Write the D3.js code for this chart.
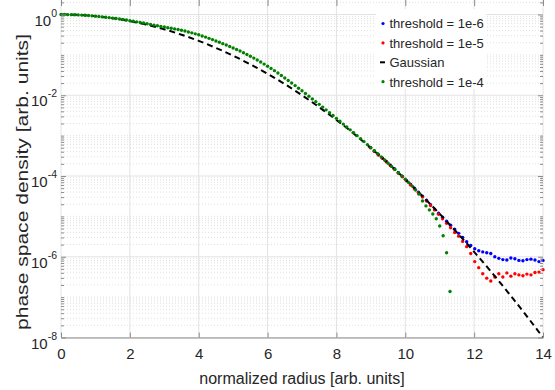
<!DOCTYPE html>
<html>
<head>
<meta charset="utf-8">
<script src="https://cdn.jsdelivr.net/npm/d3@7"></script>
<style>
  body { margin: 0; background: #fff; }
  svg { display: block; font-family: "Liberation Sans", Arial, sans-serif; }
</style>
</head>
<body>
<svg id="chart" width="555" height="390"></svg>
<script>
// all series are log10(phase space density)

// threshold = 1e-4 (green), sampled every 0.1 from r = 0
const greenStep = 0.1;
const greenLog10 = [
  0, 0, -0.002, -0.004, -0.007, -0.010, -0.015, -0.020, -0.026, -0.033,
  -0.041, -0.049, -0.059, -0.069, -0.078, -0.089, -0.100, -0.112, -0.125, -0.138,
  -0.153, -0.167, -0.182, -0.197, -0.212, -0.228, -0.245, -0.263, -0.280, -0.295,
  -0.311, -0.327, -0.342, -0.357, -0.372, -0.390, -0.409, -0.432, -0.454, -0.479,
  -0.503, -0.531, -0.560, -0.591, -0.622, -0.655, -0.688, -0.722, -0.756, -0.792,
  -0.828, -0.866, -0.904, -0.947, -0.990, -1.035, -1.080, -1.128, -1.177, -1.229,
  -1.281, -1.335, -1.391, -1.450, -1.510, -1.572, -1.634, -1.697, -1.761, -1.825,
  -1.890, -1.957, -2.023, -2.090, -2.158, -2.226, -2.294, -2.362, -2.431, -2.501,
  -2.572, -2.643, -2.714, -2.785, -2.857, -2.929, -3.001, -3.074, -3.148, -3.222,
  -3.296, -3.372, -3.449, -3.526, -3.604, -3.684, -3.762, -3.840, -3.920, -4.000,
  -4.082, -4.165, -4.250, -4.345, -4.45, -4.62, -4.74, -4.84, -4.94, -5.06,
  -5.24, -5.48, -5.90, -6.86
];

// threshold = 1e-6 (blue) and 1e-5 (red): step 14/120, shown from index 77 on
// (before that they sit under the green points)
const tailStep = 14 / 120;
const tailStart = 77;
const blueLog10 = [
  -3.29, -3.38, -3.47, -3.55, -3.64, -3.73, -3.82, -3.92, -4.01, -4.11,
  -4.20, -4.30, -4.40, -4.50, -4.60, -4.71, -4.82, -4.92, -5.02, -5.12,
  -5.22, -5.32, -5.42, -5.52, -5.63, -5.72, -5.80, -5.85, -5.88, -5.90,
  -5.92, -6.00, -6.04, -6.07, -6.08, -6.03, -6.05, -6.09, -6.10, -6.07,
  -6.06, -6.08, -6.12, -6.09
];
const redLog10 = [
  -3.30, -3.39, -3.48, -3.56, -3.65, -3.74, -3.83, -3.93, -4.02, -4.12,
  -4.22, -4.32, -4.42, -4.52, -4.62, -4.73, -4.84, -4.95, -5.06, -5.17,
  -5.28, -5.40, -5.49, -5.62, -5.75, -5.92, -6.12, -6.27, -6.42, -6.53,
  -6.60, -6.50, -6.42, -6.50, -6.40, -6.48, -6.42, -6.45, -6.47, -6.43,
  -6.45, -6.39, -6.38, -6.32
];

// Gaussian reference, every 0.5
const gaussStep = 0.5;
const gaussLog10 = [
  0, -0.010, -0.041, -0.092, -0.163, -0.255, -0.367, -0.500, -0.653, -0.827,
  -1.020, -1.235, -1.469, -1.724, -2.000, -2.296, -2.612, -2.949, -3.306, -3.684,
  -4.082, -4.500, -4.939, -5.398, -5.878, -6.378, -6.898, -7.439, -8.000
];

const xTicks = [0, 2, 4, 6, 8, 10, 12, 14];
const yTickExps = [0, -2, -4, -6, -8];
const legendLabels = ["threshold = 1e-6", "threshold = 1e-5", "Gaussian", "threshold = 1e-4"];
const legendColors = ["#0000ff", "#ff0000", "#000000", "#008000"];

var svg = d3.select("#chart"),
  left = 61, right = 543, top = 0, bottom = 337.5,
  axisColor = "#8c8c8c", textColor = "#262626";

var x = d3.scaleLinear().domain([0, 14]).range([left, right]);
var y = d3.scaleLog().domain([1e-8, 1]).range([bottom, 14.5]);
var yTop = y.invert(top);

// minor / major values on the log axis
var majorVals = yTickExps.map(function(e) { return Math.pow(10, e); });
var minorVals = [];
for (var k = -8; k <= 0; k++) {
  for (var m = 1; m <= 9; m++) {
    var v = m * Math.pow(10, k);
    if (v > yTop) continue;
    if (m === 1 && k % 2 === 0) continue;
    minorVals.push(v);
  }
}

// grid
var grid = svg.append("g");
grid.selectAll(".minor").data(minorVals).enter().append("line")
  .attr("x1", left).attr("x2", right)
  .attr("y1", function(d) { return y(d); }).attr("y2", function(d) { return y(d); })
  .attr("stroke", "#d9d9d9").attr("stroke-width", 0.8).attr("stroke-dasharray", "1,2");
grid.selectAll(".major").data(majorVals).enter().append("line")
  .attr("x1", left).attr("x2", right)
  .attr("y1", function(d) { return y(d); }).attr("y2", function(d) { return y(d); })
  .attr("stroke", "#e3e3e3").attr("stroke-width", 1);
grid.selectAll(".vx").data(xTicks).enter().append("line")
  .attr("y1", top).attr("y2", bottom)
  .attr("x1", function(d) { return x(d); }).attr("x2", function(d) { return x(d); })
  .attr("stroke", "#e3e3e3").attr("stroke-width", 1);

// legend background hides the grid under it
svg.append("rect").attr("x", 376).attr("y", 9).attr("width", 110).attr("height", 80).attr("fill", "#fff");

// data
function dots(vals, step, start, color) {
  svg.append("g").selectAll("circle").data(vals).enter().append("circle")
    .attr("cx", function(d, i) { return x((start + i) * step); })
    .attr("cy", function(d) { return y(Math.pow(10, d)); })
    .attr("r", 1.7)
    .attr("fill", color);
}
dots(blueLog10, tailStep, tailStart, legendColors[0]);
dots(redLog10, tailStep, tailStart, legendColors[1]);

var gaussLine = d3.line()
  .x(function(d, i) { return x(i * gaussStep); })
  .y(function(d) { return y(Math.pow(10, d)); })
  .curve(d3.curveMonotoneX);
svg.append("path").datum(gaussLog10)
  .attr("d", gaussLine)
  .attr("fill", "none").attr("stroke", "#000").attr("stroke-width", 2)
  .attr("stroke-dasharray", "6,4");

dots(greenLog10, greenStep, 0, legendColors[3]);

// axes
var ax = svg.append("g").attr("color", axisColor);

var xAxis = ax.append("g").attr("transform", "translate(0," + bottom + ")")
  .call(d3.axisBottom(x).tickValues(xTicks).tickSizeInner(-5).tickSizeOuter(0).tickPadding(11));
xAxis.selectAll("text").attr("fill", textColor).style("font-size", "15px");

ax.append("g").attr("transform", "translate(0," + top + ")")
  .call(d3.axisTop(x).tickValues(xTicks).tickSizeInner(-6).tickSizeOuter(0).tickFormat(""))
  .select(".domain").remove();

var yAxis = ax.append("g").attr("transform", "translate(" + left + ",0)")
  .call(d3.axisLeft(y).tickValues(majorVals).tickSizeInner(-5).tickSizeOuter(0).tickFormat(""));
yAxis.select(".domain").attr("d", "M0," + top + "V" + bottom);
ax.append("g").attr("transform", "translate(" + left + ",0)")
  .call(d3.axisLeft(y).tickValues(minorVals).tickSizeInner(-3).tickSizeOuter(0).tickFormat(""))
  .select(".domain").remove();

ax.append("g").attr("transform", "translate(" + right + ",0)")
  .call(d3.axisRight(y).tickValues(majorVals).tickSizeInner(-5).tickSizeOuter(0).tickFormat(""))
  .select(".domain").attr("stroke", "#e0e0e0").attr("d", "M0," + top + "V" + bottom);
ax.append("g").attr("transform", "translate(" + right + ",0)")
  .call(d3.axisRight(y).tickValues(minorVals).tickSizeInner(-3).tickSizeOuter(0).tickFormat(""))
  .select(".domain").remove();

// y tick labels 10^n
var yLab = svg.append("g").selectAll("text").data(yTickExps).enter().append("text")
  .attr("x", 57)
  .attr("y", function(d) { return y(Math.pow(10, d)) + 11; })
  .attr("text-anchor", "end")
  .attr("fill", textColor)
  .style("font-size", "15px");
yLab.append("tspan").text("10");
yLab.append("tspan").attr("dy", -9).style("font-size", "10.5px").text(function(d) { return d; });

// axis titles
svg.append("text")
  .attr("x", (left + right) / 2).attr("y", 383.5)
  .attr("text-anchor", "middle").attr("fill", textColor)
  .style("font-size", "16px")
  .text("normalized radius [arb. units]");

svg.append("text")
  .attr("transform", "translate(28,182) rotate(-90)")
  .attr("text-anchor", "middle").attr("fill", textColor)
  .attr("textLength", 296).attr("lengthAdjust", "spacingAndGlyphs")
  .style("font-size", "17px")
  .text("phase space density [arb. units]");

// legend
var leg = svg.append("g").selectAll("g").data(legendLabels).enter().append("g")
  .attr("transform", function(d, i) { return "translate(383," + (23.5 + i * 19.4) + ")"; });
leg.each(function(d, i) {
  var g = d3.select(this);
  if (i === 2) {
    g.append("line").attr("x1", -3).attr("x2", 2).attr("y1", 0).attr("y2", 0)
      .attr("stroke", "#000").attr("stroke-width", 2);
  } else {
    g.append("circle").attr("r", 1.6).attr("fill", legendColors[i]);
  }
});
leg.append("text")
  .attr("x", 6.5).attr("y", 4.8)
  .attr("fill", textColor)
  .style("font-size", "13px")
  .text(function(d) { return d; });
</script>
</body>
</html>
